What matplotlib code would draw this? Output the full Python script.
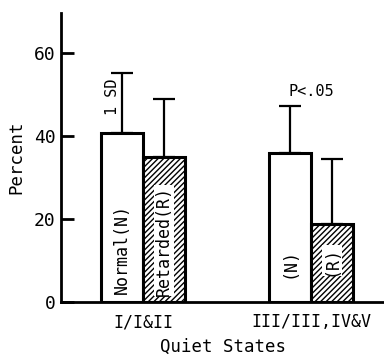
import matplotlib
matplotlib.use('Agg')
import matplotlib.pyplot as plt

# data
groups = ['I/I&II', 'III/III,IV&V']
normal = [40.7, 35.9]
normal_sd = [14.5, 11.3]
retarded = [34.9, 18.8]
retarded_sd = [14.0, 15.7]

plt.rcParams['font.family'] = 'DejaVu Sans Mono'
plt.rcParams['hatch.linewidth'] = 1.0

fig = plt.figure(figsize=(3.84, 3.57), dpi=100)
ax = fig.add_axes([61 / 384, 55 / 357, (384 - 61) / 384, 289 / 357])

left_n = [0, 4]
left_r = [1, 5]
ax.bar(left_n, normal, width=1, align='edge', color='white', edgecolor='black', linewidth=2.2)
ax.bar(left_r, retarded, width=1, align='edge', color='white', edgecolor='black',
       linewidth=2.2, hatch='//////')
ax.errorbar([x + 0.5 for x in left_n], normal, yerr=[[0, 0], normal_sd], fmt='none',
            ecolor='black', elinewidth=1.6, capsize=8, capthick=1.6)
ax.errorbar([x + 0.5 for x in left_r], retarded, yerr=[[0, 0], retarded_sd], fmt='none',
            ecolor='black', elinewidth=1.6, capsize=8, capthick=1.6)

# labels inside the bars
ax.text(0.5, 2.0, 'Normal(N)', rotation=90, ha='center', va='bottom', fontsize=12)
ax.text(1.5, 1.5, 'Retarded(R)', rotation=90, ha='center', va='bottom', fontsize=12,
        bbox=dict(facecolor='white', edgecolor='none', pad=0.5))
ax.text(4.5, 9.5, '(N)', rotation=90, ha='center', va='center', fontsize=12)
ax.text(5.5, 10, '(R)', rotation=90, ha='center', va='center', fontsize=12,
        bbox=dict(facecolor='white', edgecolor='none', pad=0.5))
ax.text(0.27, 49.5, '1 SD', rotation=90, ha='center', va='center', fontsize=11)
ax.text(5.0, 49.0, 'P<.05', ha='center', va='bottom', fontsize=11)

ax.set_xlim(-0.95, 6.74)
ax.set_ylim(0, 69.7)
ax.set_yticks([0, 20, 40, 60])
ax.set_xticks([1, 5])
ax.set_xticklabels(groups, fontsize=12)
ax.tick_params(axis='y', direction='in', length=9, width=2, labelsize=13, pad=4)
ax.tick_params(axis='x', length=0, pad=8)
ax.set_ylabel('Percent', fontsize=12.5, labelpad=6)
ax.set_xlabel('Quiet States', fontsize=12.5, labelpad=5)
for s in ['top', 'right']:
    ax.spines[s].set_visible(False)
for s in ['left', 'bottom']:
    ax.spines[s].set_linewidth(2)

fig.savefig('out.png', dpi=100)
